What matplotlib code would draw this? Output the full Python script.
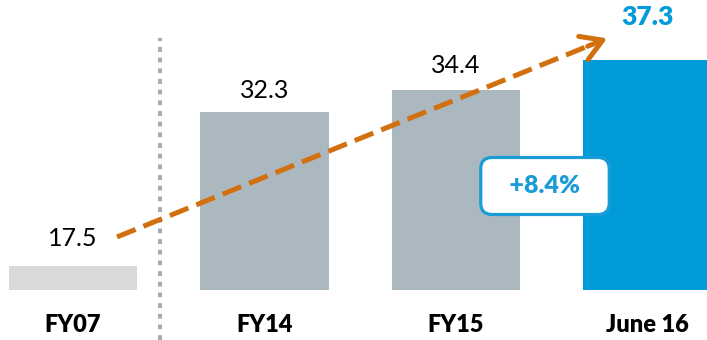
import numpy as np
import matplotlib.pyplot as plt

plt.rcParams['font.family'] = ['Lato', 'DejaVu Sans']

# data
categories = ['FY07', 'FY14', 'FY15', 'June 16']
values = [17.5, 32.3, 34.4, 37.3]
colors = ['#d9d9d9', '#abb8bf', '#abb8bf', '#009bd8']
growth_label = '+8.4%'

base = 15.2           # truncated axis start
px_per_unit = 10.4    # vertical scale
fig = plt.figure(figsize=(7.07, 3.40), dpi=100)
ax = fig.add_axes([0, 0, 1, 1])
ax.set_xlim(-0.381, 3.311)
ax.set_ylim(base - 50 / px_per_unit, base + 290 / px_per_unit)
ax.axis('off')

x = np.arange(len(values))
heights = [v - base for v in values]
ax.bar(x, heights, bottom=base, width=0.67, color=colors)

# value labels
offsets = [-28, -22, -25, -43]  # px above bar top (label centre)
for i, v in enumerate(values):
    is_last = i == len(values) - 1
    ax.annotate(f'{v:.1f}', (x[i], v), xytext=(0, -offsets[i] * 0.72),
                textcoords='offset points', ha='center', va='center',
                fontsize=19 if is_last else 18,
                fontweight='heavy' if is_last else 'normal',
                color='#009bd8' if is_last else 'black')

# category labels
for i, c in enumerate(categories):
    ax.annotate(c, (x[i], base), xytext=(0, -35 * 0.72), textcoords='offset points',
                ha='center', va='center', fontsize=17, fontweight='heavy', color='black')

# dotted separator
sep_x = 0.454
ax.plot([sep_x, sep_x], [ax.get_ylim()[0], values[-1] + 2.1], color='#9eafb8',
        lw=2.9, linestyle=(0, (1.2, 1.45)), dash_capstyle='butt', zorder=1)

# dashed trend arrow
start = (0.23, values[0] + 2.8)
end = (2.79, values[-1] + 2.1)
frac = 0.96
mid = (start[0] + (end[0] - start[0]) * frac, start[1] + (end[1] - start[1]) * frac)
ax.plot([start[0], mid[0]], [start[1], mid[1]], color='#d2700f', lw=3.6,
        linestyle=(0, (4, 1.7)), dash_capstyle='butt', zorder=4)
ax.annotate('', xy=end, xytext=mid,
            arrowprops=dict(arrowstyle='->,head_length=0.75,head_width=0.45',
                            color='#d2700f', lw=3.6, mutation_scale=20,
                            shrinkA=0, shrinkB=0),
            zorder=4)

# growth box
ax.text(2.465, 25.2, '  ' + growth_label + '  ', ha='center', va='center',
        fontsize=18, fontweight='heavy', color='#1a9cd6', zorder=6,
        bbox=dict(boxstyle='round,pad=0.7,rounding_size=0.45', fc='white',
                  ec='#1a9cd6', lw=2.3))

fig.savefig('out.png', dpi=100)
